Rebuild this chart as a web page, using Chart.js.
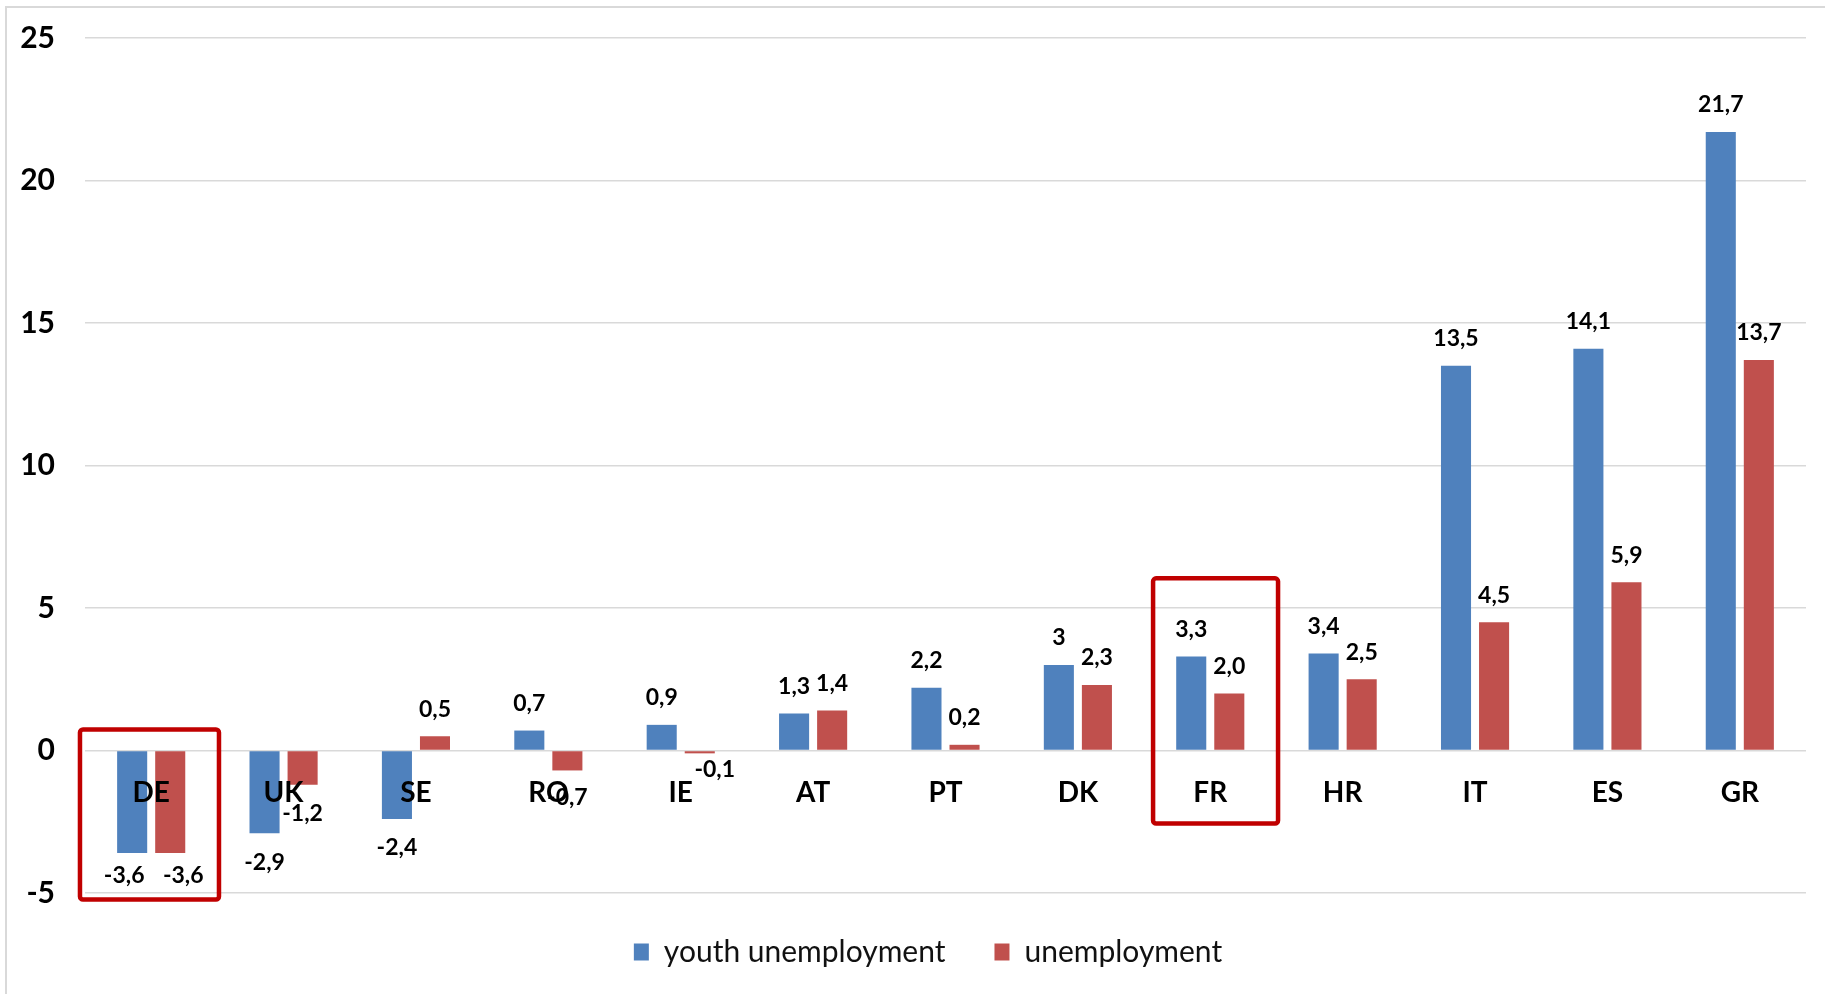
<!DOCTYPE html>
<html>
<head>
<meta charset="utf-8">
<script src="https://cdn.jsdelivr.net/npm/chart.js@4/dist/chart.umd.min.js"></script>
<style>
    html, body { margin: 0; padding: 0; background: #fff; overflow: hidden; }
    #wrap { position: relative; width: 1825px; height: 994px; }
    #frame { position: absolute; left: 5px; top: 6px; width: 1840px; height: 1010px; border: 2px solid #d9d9d9; pointer-events: none; }
</style>
</head>
<body>
<div id="wrap">
    <canvas id="grafico" width="1825" height="994"></canvas>
    <div id="frame"></div>
</div>
<script>
const paises = ['DE', 'UK', 'SE', 'RO', 'IE', 'AT', 'PT', 'DK', 'FR', 'HR', 'IT', 'ES', 'GR'];
const desempleoJuvenil = [-3.6, -2.9, -2.4, 0.7, 0.9, 1.3, 2.2, 3, 3.3, 3.4, 13.5, 14.1, 21.7];
const desempleo = [-3.6, -1.2, 0.5, -0.7, -0.1, 1.4, 0.2, 2.3, 2.0, 2.5, 4.5, 5.9, 13.7];
const textoJuvenil = ['-3,6', '-2,9', '-2,4', '0,7', '0,9', '1,3', '2,2', '3', '3,3', '3,4', '13,5', '14,1', '21,7'];
const textoDesempleo = ['-3,6', '-1,2', '0,5', '-0,7', '-0,1', '1,4', '0,2', '2,3', '2,0', '2,5', '4,5', '5,9', '13,7'];
const marcasY = [-5, 0, 5, 10, 15, 20, 25];

// etiquetas movidas a mano en el original (pixeles)
const empujes = [
    { serie: 0, pais: 'DE', dx: -8, dy: -7 },
    { serie: 1, pais: 'DE', dx: 13, dy: -7 },
    { serie: 1, pais: 'IE', dx: 15, dy: -13 },
    { serie: 1, pais: 'RO', dx: 0, dy: -2 }
];

// cuadros rojos: extension en anchos de categoria y en valores del eje y
const resaltados = [
    { pais: 'DE', izq: -0.538, der: 0.512, arriba: 0.74, abajo: -5.23 },
    { pais: 'FR', izq: -0.432, der: 0.512, arriba: 6.04, abajo: -2.56 }
];

const fuente = 'Lato, "Open Sans", sans-serif';

const etiquetasDatos = {
    id: 'etiquetasDatos',
    afterDraw(chart) {
        const ctx = chart.ctx;
        const textos = [textoJuvenil, textoDesempleo];
        ctx.save();
        ctx.font = 'bold 23px ' + fuente;
        ctx.fillStyle = '#000';
        ctx.textAlign = 'center';
        ctx.textBaseline = 'middle';
        chart.data.datasets.forEach((ds, i) => {
            chart.getDatasetMeta(i).data.forEach((bar, j) => {
                const v = ds.data[j];
                let x = bar.x;
                let y = v >= 0 ? bar.y - 27 : bar.y + 29;
                const e = empujes.find(p => p.serie === i && p.pais === paises[j]);
                if (e) { x += e.dx; y += e.dy; }
                ctx.fillText(textos[i][j], x, y);
            });
        });

        // recuadros
        const ex = chart.scales.x;
        const ey = chart.scales.y;
        const ancho = (ex.right - ex.left) / paises.length;
        ctx.strokeStyle = '#C00000';
        ctx.lineWidth = 4.5;
        ctx.lineJoin = 'round';
        resaltados.forEach(r => {
            const cx = ex.getPixelForValue(paises.indexOf(r.pais));
            const x1 = cx + r.izq * ancho;
            const x2 = cx + r.der * ancho;
            const y1 = ey.getPixelForValue(r.arriba);
            const y2 = ey.getPixelForValue(r.abajo);
            ctx.beginPath();
            ctx.roundRect(x1, y1, x2 - x1, y2 - y1, 3);
            ctx.stroke();
        });
        ctx.restore();
    }
};

const moverLeyenda = {
    id: 'moverLeyenda',
    afterLayout(chart) {
        const l = chart.legend;
        l.left += 25; l.right += 25;
        l.top -= 5; l.bottom -= 5;
    }
};

const ctx = document.getElementById('grafico').getContext('2d');
new Chart(ctx, {
    type: 'bar',
    data: {
        labels: paises,
        datasets: [{
            label: 'youth unemployment',
            data: desempleoJuvenil,
            backgroundColor: '#4F81BD',
            borderWidth: 0,
            categoryPercentage: 0.575,
            barPercentage: 0.79
        }, {
            label: 'unemployment',
            data: desempleo,
            backgroundColor: '#C0504D',
            borderWidth: 0,
            categoryPercentage: 0.575,
            barPercentage: 0.79
        }]
    },
    options: {
        responsive: false,
        animation: false,
        layout: { padding: { top: 38, right: 19, bottom: 12, left: 0 } },
        plugins: {
            tooltip: { enabled: false },
            legend: {
                position: 'bottom',
                labels: {
                    boxWidth: 15,
                    boxHeight: 17,
                    padding: 49,
                    color: '#111',
                    font: { family: fuente, size: 30 }
                }
            }
        },
        scales: {
            x: {
                type: 'category',
                position: { y: 0 },
                grid: { display: false },
                border: { display: false },
                ticks: {
                    z: 1,
                    color: '#000',
                    padding: 18,
                    font: { family: fuente, size: 28, weight: 'bold', lineHeight: 1.2 }
                }
            },
            y: {
                min: -5,
                max: 25,
                afterFit(scale) {
                    scale.width = 85;
                    scale.paddingTop = 17;
                    scale.paddingBottom = 17;
                },
                afterBuildTicks(scale) { scale.ticks = marcasY.map(v => ({ value: v })); },
                grid: { color: '#d9d9d9', lineWidth: 1.5, drawTicks: false },
                border: { display: false },
                ticks: {
                    color: '#000',
                    padding: 30,
                    font: { family: fuente, size: 30, weight: 'bold' }
                }
            }
        }
    },
    plugins: [etiquetasDatos, moverLeyenda]
});
</script>
</body>
</html>
